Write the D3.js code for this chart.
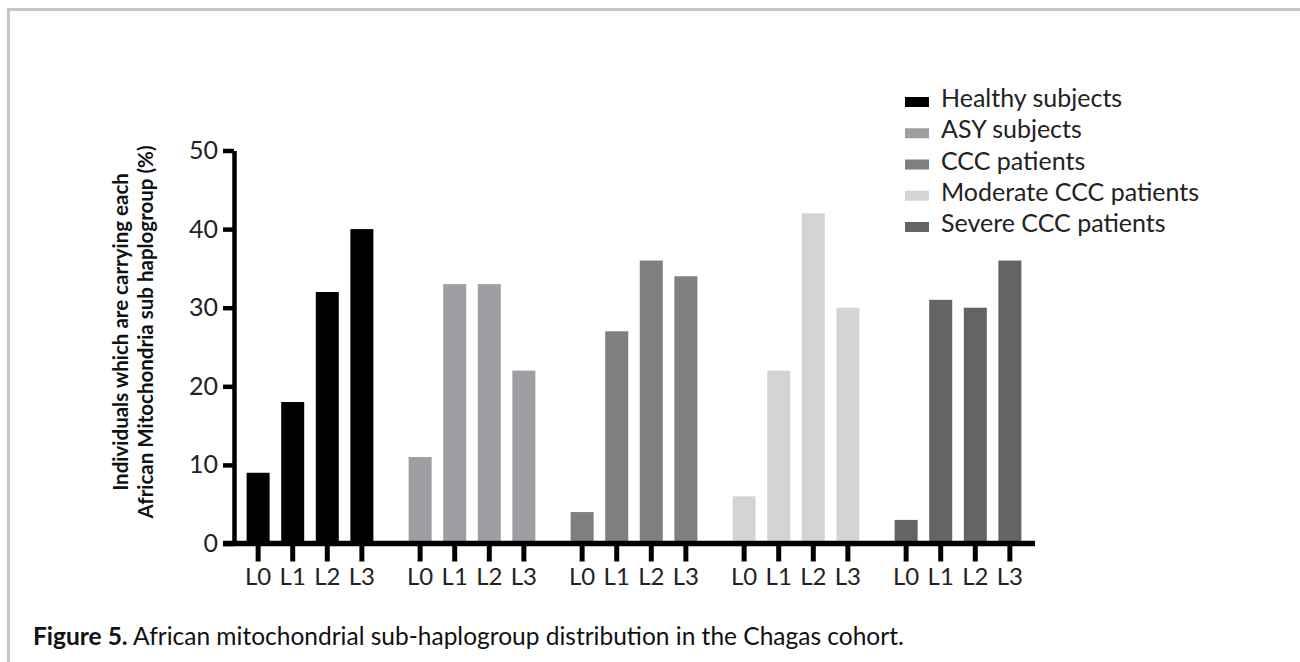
<!DOCTYPE html>
<html>
<head>
<meta charset="utf-8">
<script src="https://cdn.jsdelivr.net/npm/d3@7"></script>
<style>
  html, body { margin: 0; padding: 0; background: #fff; }
  svg { display: block; }
  text { font-family: Lato, "Open Sans", sans-serif; }
</style>
</head>
<body>
<svg id="chart" width="1300" height="662"></svg>
<script>
// ---- data ----
const groups = ["Healthy subjects", "ASY subjects", "CCC patients", "Moderate CCC patients", "Severe CCC patients"];
const haplogroups = ["L0", "L1", "L2", "L3"];
const healthy  = [9, 18, 32, 40];
const asy      = [11, 33, 33, 22];
const ccc      = [4, 27, 36, 34];
const moderate = [6, 22, 42, 30];
const severe   = [3, 31, 30, 36];
const yTicks = [0, 10, 20, 30, 40, 50];
const colors = ["#000000", "#9e9ea2", "#7f7f7f", "#d4d4d4", "#646464"];
const yLabelLines = ["Individuals which are carrying each", "African Mitochondria sub haplogroup (%)"];
const captionBold = "Figure 5.";
const captionText = " African mitochondrial sub-haplogroup distribution in the Chagas cohort.";

const seriesValues = [healthy, asy, ccc, moderate, severe];
const table = groups.map((g, gi) => ({ group: g, color: colors[gi],
  bars: haplogroups.map((h, hi) => ({ h, v: seriesValues[gi][hi] })) }));

const svg = d3.select("#chart");

// frame
svg.append("line").attr("x1", 8.5).attr("x2", 1300).attr("y1", 9.5).attr("y2", 9.5)
  .attr("stroke", "#c6c6c6").attr("stroke-width", 3);
svg.append("line").attr("x1", 8.5).attr("x2", 8.5).attr("y1", 8).attr("y2", 662)
  .attr("stroke", "#c6c6c6").attr("stroke-width", 3);

// scales
const y = d3.scaleLinear().domain([0, 50]).range([543.5, 150.5]);
const x0 = d3.scaleBand().domain(groups).range([229, 1039]).paddingInner(0).paddingOuter(0);
const x1 = d3.scaleBand().domain(haplogroups).range([0, x0.bandwidth()]).paddingInner(0.335).paddingOuter(0.51);

const axisX = 234;

// bars
const g = svg.append("g");
table.forEach(grp => {
  g.selectAll(null).data(grp.bars).enter().append("rect")
    .attr("x", d => x0(grp.group) + x1(d.h))
    .attr("width", x1.bandwidth())
    .attr("y", d => y(d.v))
    .attr("height", d => y(0) - y(d.v))
    .attr("fill", grp.color);
});

// y axis
const yAxis = d3.axisLeft(y).tickValues(yTicks).tickSize(11).tickPadding(5).tickSizeOuter(0);
const ya = svg.append("g").attr("transform", `translate(${axisX},0)`).call(yAxis);
ya.select(".domain").attr("stroke", "#000").attr("stroke-width", 4.5);
ya.selectAll(".tick line").attr("stroke", "#000").attr("stroke-width", 4.5);
ya.selectAll(".tick text").attr("font-size", 25).attr("fill", "#222")
  .style("font-family", "Lato, sans-serif");

// x axis
const xa = svg.append("g").attr("transform", `translate(0,${y(0)})`);
xa.append("line").attr("x1", 223).attr("x2", 1035).attr("y1", 0).attr("y2", 0)
  .attr("stroke", "#000").attr("stroke-width", 5.5);
table.forEach(grp => {
  const tg = xa.selectAll(null).data(grp.bars).enter().append("g")
    .attr("transform", d => `translate(${x0(grp.group) + x1(d.h) + x1.bandwidth() / 2},0)`);
  tg.append("line").attr("y1", 0).attr("y2", 18).attr("stroke", "#000").attr("stroke-width", 5);
  tg.append("text").attr("y", 41.5).attr("text-anchor", "middle")
    .attr("font-size", 24).attr("fill", "#222").text(d => d.h);
});

// y label
const yl = svg.append("text").attr("transform", "translate(0,332) rotate(-90)")
  .attr("text-anchor", "middle").attr("font-weight", "bold").attr("font-size", 20.5).attr("fill", "#111");
yl.selectAll("tspan").data(yLabelLines).enter().append("tspan")
  .attr("x", 0).attr("y", (d, i) => [128, 153][i]).text(d => d);

// legend
const ly = d3.scalePoint().domain(groups).range([107, 232]);
const lg = svg.append("g");
const li = lg.selectAll("g").data(table).enter().append("g")
  .attr("transform", d => `translate(905,${ly(d.group)})`);
li.append("rect").attr("x", 0).attr("y", -10).attr("width", 24).attr("height", 10).attr("fill", d => d.color);
li.append("text").attr("x", 36).attr("y", 0).attr("font-size", 25).attr("fill", "#222").text(d => d.group);

// caption
const cap = svg.append("text").attr("x", 33).attr("y", 645).attr("font-size", 24.5).attr("fill", "#111");
cap.append("tspan").attr("font-weight", "bold").text(captionBold);
cap.append("tspan").text(captionText);
</script>
</body>
</html>
